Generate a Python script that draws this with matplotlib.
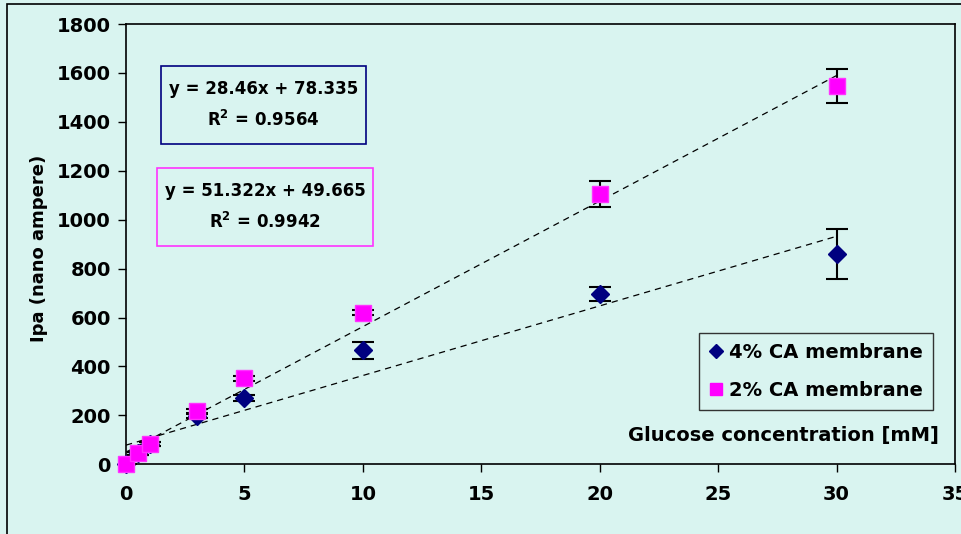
import numpy as np
import matplotlib.pyplot as plt
from matplotlib.patches import Rectangle
from matplotlib.lines import Line2D

plt.rcParams['font.family'] = ['DejaVu Sans']
plt.rcParams['font.weight'] = 'bold'

# glucose concentration (mM)
conc = [0, 0.5, 1, 3, 5, 10, 20, 30]

# 4% CA membrane
ca4 = [0, 45, 82, 196, 270, 466, 696, 858]
ca4_err = [3, 5, 8, 8, 12, 35, 30, 102]

# 2% CA membrane
ca2 = [0, 45, 83, 218, 352, 620, 1105, 1545]
ca2_err = [3, 5, 8, 10, 10, 10, 55, 70]

fit4 = (28.46, 78.335, 0.9564)
fit2 = (51.322, 49.665, 0.9942)

BG = '#d9f4f0'
NAVY = '#000080'
PINK = '#ff00ff'
W, H = 962, 534

fig = plt.figure(figsize=(W / 100, H / 100), dpi=100, facecolor=BG)
ax = fig.add_axes([126 / W, (H - 464.3) / H, (955 - 126) / W, (464.3 - 24) / H])
ax.set_facecolor(BG)

# figure border
fig.patches.append(Rectangle((7 / W, -0.2), 1.2, (H - 4) / H + 0.2,
                             transform=fig.transFigure, fill=False,
                             edgecolor='black', lw=1.2))

# trendlines
xf = np.array([0, 30])
for m, b, _ in (fit4, fit2):
    ax.plot(xf, m * xf + b, ls=(0, (5, 4)), color='black', lw=0.9, zorder=2)

e4 = ax.errorbar(conc, ca4, yerr=ca4_err, fmt='D', color=NAVY, ms=9,
                 ecolor='black', elinewidth=1.5, capsize=8, capthick=1.5,
                 zorder=3)
e2 = ax.errorbar(conc, ca2, yerr=ca2_err, fmt='s', color=PINK, ms=11,
                 mec='#ff33ff', ecolor='black', elinewidth=1.5, capsize=8,
                 capthick=1.5, zorder=4)
for e in (e4, e2):
    e[0].set_clip_on(False)

ax.set_xlim(0, 35)
ax.set_ylim(0, 1800)
ax.set_xticks(range(0, 36, 5))
ax.set_yticks(range(0, 1801, 200))
ax.tick_params(axis='both', direction='out', length=6, width=1, labelsize=14)
ax.tick_params(axis='x', pad=9)
ax.tick_params(axis='y', pad=5)
for lbl in ax.get_xticklabels() + ax.get_yticklabels():
    lbl.set_fontweight('bold')
for s in ax.spines.values():
    s.set_linewidth(1.2)

ax.set_ylabel('Ipa (nano ampere)', fontsize=13, fontweight='bold')
ax.yaxis.set_label_coords(-78 / (955 - 126), 0.49)
ax.text(0.981, 0.065, 'Glucose concentration [mM]', transform=ax.transAxes,
        ha='right', va='center', fontsize=14, fontweight='bold')

# equation boxes
def eq_box(x0, y0, x1, y1, color, fit):
    m, b, r2 = fit
    fig.patches.append(Rectangle((x0 / W, 1 - y1 / H), (x1 - x0) / W,
                                 (y1 - y0) / H, transform=fig.transFigure,
                                 fill=False, edgecolor=color, lw=1.2))
    cx = (x0 + x1) / 2 / W
    fig.text(cx, 1 - (y0 + 23) / H, f'y = {m}x + {b}', ha='center',
             va='center', fontsize=12, fontweight='bold')
    fig.text(cx, 1 - (y0 + 54) / H, f'R$^\\mathbf{{2}}$ = {r2}', ha='center',
             va='center', fontsize=12, fontweight='bold')

eq_box(161, 66, 366, 144, NAVY, fit4)
eq_box(157, 168, 373, 246, '#ff33ff', fit2)

handles = [Line2D([], [], ls='none', marker='D', color=NAVY, ms=7),
           Line2D([], [], ls='none', marker='s', color=PINK, ms=9)]
leg = ax.legend(handles, ['4% CA membrane', '2% CA membrane'],
                loc='upper left',
                bbox_to_anchor=((699 - 126) / (955 - 126), (464.3 - 333) / 440.3),
                frameon=True, fancybox=False, framealpha=1, facecolor=BG,
                edgecolor='#333333', prop={'size': 14, 'weight': 'bold'},
                handlelength=0.7, handletextpad=0.35, borderpad=0.5,
                labelspacing=1.0, borderaxespad=0)
leg.get_frame().set_linewidth(1)

fig.savefig('out.png', dpi=100, facecolor=BG)
